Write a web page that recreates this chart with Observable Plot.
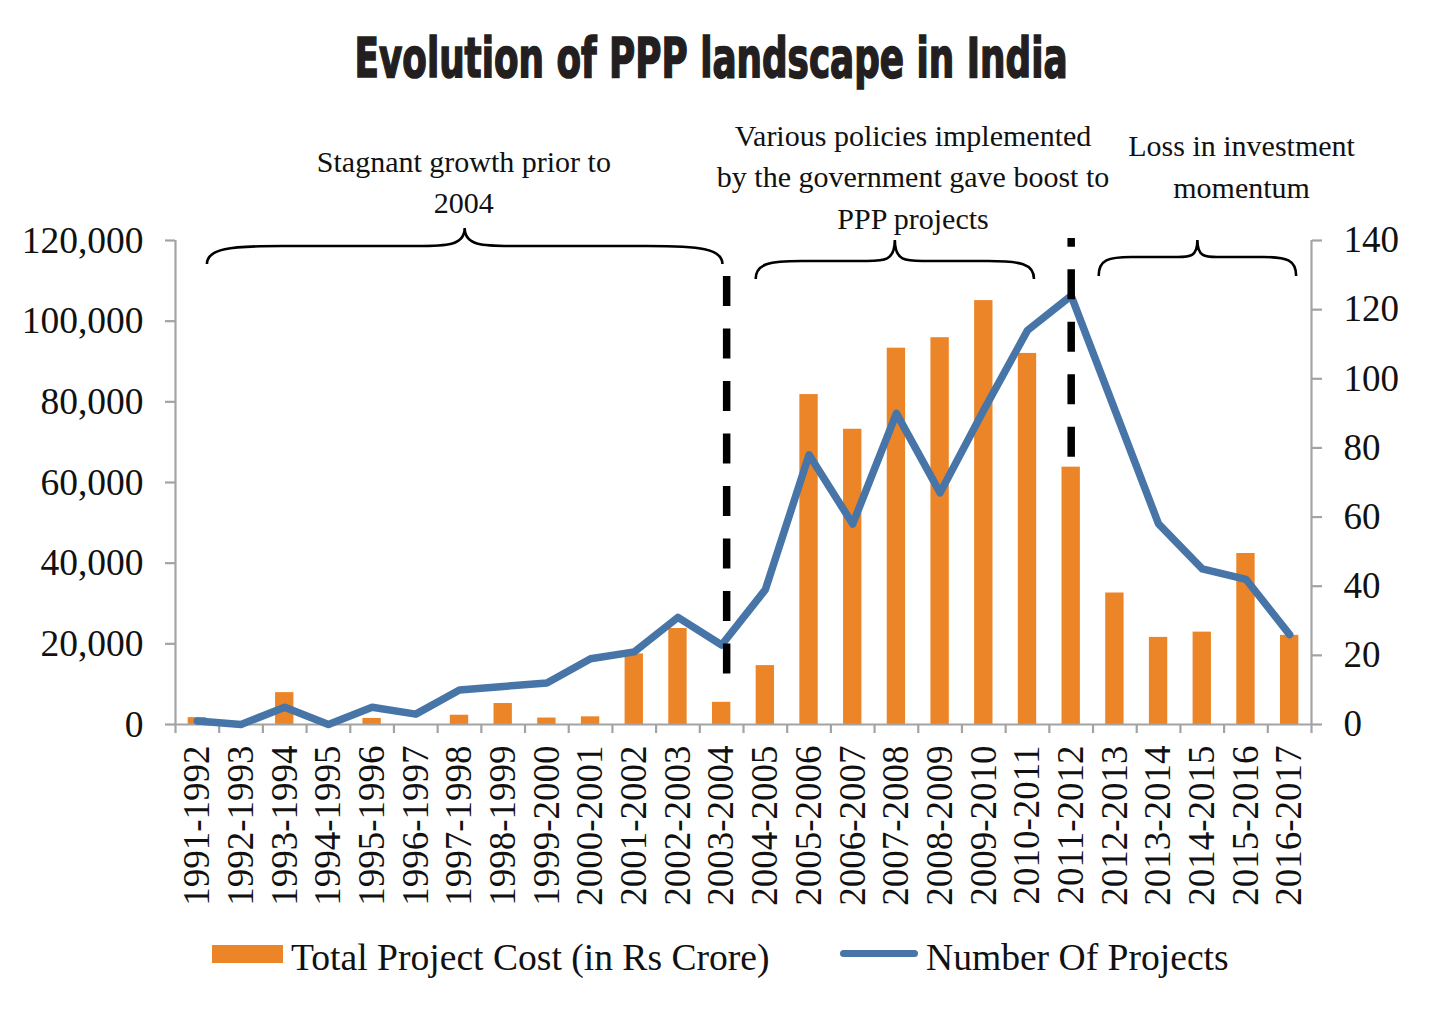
<!DOCTYPE html>
<html>
<head>
<meta charset="utf-8">
<script src="https://cdn.jsdelivr.net/npm/d3@7"></script>
<script src="https://cdn.jsdelivr.net/npm/@observablehq/plot@0.6"></script>
<style>
  html, body { margin: 0; padding: 0; background: #fff; }
  #page { position: relative; width: 1433px; height: 1022px; overflow: hidden; background: #fff; }
  #title { position: absolute; left: 0; top: 30px; width: 1433px; text-align: center;
           font-family: "DejaVu Sans", sans-serif; font-weight: bold; font-stretch: condensed;
           font-size: 56px; line-height: 56px; color: #231f20; white-space: nowrap; }
  #titleText { display: inline-block; transform-origin: 50% 50%; -webkit-text-stroke: 1.6px #231f20; }
  #chart { position: absolute; left: 0; top: 100px; }
  .leg { position: absolute; font-family: "Liberation Serif", "Times New Roman", serif;
         font-size: 37.6px; line-height: 37px; color: #111; white-space: nowrap; }
  .sw { position: absolute; }
</style>
</head>
<body>
<div id="page">
  <div id="title"><span id="titleText">Evolution of PPP landscape in India</span></div>
  <div id="chart"></div>
  <div id="legend"></div>
</div>
<script>
// ---------- data ----------
const years = ["1991-1992","1992-1993","1993-1994","1994-1995","1995-1996","1996-1997","1997-1998",
  "1998-1999","1999-2000","2000-2001","2001-2002","2002-2003","2003-2004","2004-2005","2005-2006",
  "2006-2007","2007-2008","2008-2009","2009-2010","2010-2011","2011-2012","2012-2013","2013-2014",
  "2014-2015","2015-2016","2016-2017"];
// Total Project Cost (in Rs Crore) – left axis
const projectCost = [1700, 0, 7900, 0, 1500, 0, 2300, 5200, 1600, 1900, 17500, 23800, 5500, 14600,
  81800, 73200, 93300, 95900, 105100, 92000, 63800, 32600, 21600, 22900, 42400, 22100];
// Number Of Projects – right axis
const numProjects = [1, 0, 5, 0, 5, 3, 10, 11, 12, 19, 21, 31, 23, 39, 78, 58, 90, 67, 91, 114, 124,
  91, 58, 45, 42, 26];
const leftTicks = [0, 20000, 40000, 60000, 80000, 100000, 120000];
const rightTicks = [0, 20, 40, 60, 80, 100, 120, 140];
const seriesNames = ["Total Project Cost (in Rs Crore)", "Number Of Projects"];
const titleText = "Evolution of PPP landscape in India";

// annotations (positions in category-index / left-axis units)
const noteTexts = ["Stagnant growth prior to\n2004",
  "Various policies implemented\nby the government gave boost to\nPPP projects",
  "Loss in investment\nmomentum"];
const noteX = [6.1, 16.38, 23.9];
const noteY = [126700, 122970, 130660];
const braceFrom = [0.23, 12.79, 20.64];
const braceTo = [12.03, 19.16, 25.16];
const braceEnd = [114050, 110330, 111070];
const braceBody = [118510, 114790, 115780];
const braceTip = [122970, 120000, 120000];
const dividerYears = ["2003-2004", "2011-2012"];
const dividerTop = [111100, 120500];
const dividerBottom = [12400, 66200];

// ---------- styles ----------
const ORANGE = "#ec8428";
const BLUE = "#4775a7";
const GRAY = "#a3a3a3";
const INK = "#111";
const SERIF = '"Liberation Serif", "Times New Roman", serif';
const ratio = 120000 / 140;

const table = years.map((y, i) => ({i, year: y, cost: projectCost[i], n: numProjects[i]}));
const notes = noteTexts.map((t, k) => ({text: t, x: noteX[k], y: noteY[k]}));
const braces = braceFrom.map((f, k) => ({from: f, to: braceTo[k], end: braceEnd[k], body: braceBody[k], tip: braceTip[k]}));
const dividers = dividerYears.map((y, k) => ({at: years.indexOf(y), top: dividerTop[k], bottom: dividerBottom[k]}));

function braceRender(index, scales) {
  const sx = scales.x, sy = scales.y;
  const g = d3.create("svg:g");
  for (const b of braces) {
    const x0 = sx(b.from), x1 = sx(b.to), xc = (x0 + x1) / 2;
    const ye = sy(b.end), yb = sy(b.body), yt = sy(b.tip);
    const half = xc - x0;
    const a = Math.min(75, half * 0.33), c = Math.min(48, half * 0.2);
    const p = d3.path();
    p.moveTo(x0, ye);
    p.bezierCurveTo(x0, yb + (ye - yb) * 0.15, x0 + a * 0.3, yb, x0 + a, yb);
    p.lineTo(xc - c, yb);
    p.bezierCurveTo(xc - c * 0.4, yb, xc, yb, xc, yt);
    p.bezierCurveTo(xc, yb, xc + c * 0.4, yb, xc + c, yb);
    p.lineTo(x1 - a, yb);
    p.bezierCurveTo(x1 - a * 0.3, yb, x1, yb + (ye - yb) * 0.15, x1, ye);
    g.append("path").attr("d", p.toString()).attr("fill", "none")
      .attr("stroke", "#000").attr("stroke-width", 2.6);
  }
  return g.node();
}

const chart = Plot.plot({
  width: 1433,
  height: 830,
  marginTop: 140,
  marginBottom: 206,
  marginLeft: 175,
  marginRight: 122,
  x: {type: "linear", domain: [-0.5, 25.5], axis: null},
  y: {domain: [0, 120000], axis: null},
  style: {fontFamily: SERIF, fontSize: "37px", color: INK, background: "transparent", overflow: "visible"},
  marks: [
    Plot.rectY(table, {x1: d => d.i - 0.21, x2: d => d.i + 0.21, y: "cost", fill: ORANGE}),
    Plot.ruleY([0], {stroke: GRAY, strokeWidth: 2.2}),
    Plot.ruleX([-0.5, 25.5], {stroke: GRAY, strokeWidth: 2.2}),
    Plot.axisX(d3.range(27).map(i => i - 0.5), {tickSize: 9, tickFormat: () => "", stroke: GRAY, strokeWidth: 2.2}),
    Plot.axisX(d3.range(26), {tickSize: 0, tickPadding: 21, tickRotate: -90, tickFormat: i => years[i],
      fontSize: 37, fill: INK}),
    Plot.axisY(leftTicks, {anchor: "left", tickSize: 10, tickPadding: 22, tickFormat: d3.format(","),
      fontSize: 37.5, stroke: GRAY, strokeWidth: 2.2, fill: INK}),
    Plot.axisY(rightTicks.map(v => v * ratio), {anchor: "right", tickSize: 10, tickPadding: 22,
      tickFormat: v => String(Math.round(v / ratio)), fontSize: 37, stroke: GRAY, strokeWidth: 2.2, fill: INK}),
    Plot.lineY(table, {x: "i", y: d => d.n * ratio, stroke: BLUE, strokeWidth: 7.5,
      strokeLinejoin: "round", strokeLinecap: "round"}),
    Plot.ruleX([dividers[0]], {x: "at", y1: "top", y2: "bottom", dx: 5, stroke: "#000", strokeWidth: 7.5,
      strokeDasharray: "30,22.5"}),
    Plot.ruleX([dividers[1]], {x: "at", y1: "top", y2: "bottom", stroke: "#000", strokeWidth: 7.5,
      strokeDasharray: "30,22.5", strokeDashoffset: 21.3}),
    braceRender,
    Plot.text(notes, {x: "x", y: "y", text: "text", lineAnchor: "bottom", lineHeight: 1.37,
      fontSize: 30, textAnchor: "middle", fill: INK})
  ]
});
document.getElementById("chart").appendChild(chart);

// title fit
const tt = document.getElementById("titleText");
tt.textContent = titleText;
const tw = tt.getBoundingClientRect().width;
tt.style.transform = `translateX(-5px) scaleX(${713 / tw})`;

// legend
const legend = document.getElementById("legend");
const sw1 = document.createElement("div");
sw1.className = "sw";
Object.assign(sw1.style, {left: "212px", top: "945px", width: "71px", height: "18px", background: ORANGE});
legend.appendChild(sw1);
const t1 = document.createElement("div");
t1.className = "leg"; t1.style.left = "291px"; t1.style.top = "939px"; t1.textContent = seriesNames[0];
legend.appendChild(t1);
const sw2 = document.createElement("div");
sw2.className = "sw";
Object.assign(sw2.style, {left: "840px", top: "950px", width: "78px", height: "7px", background: BLUE, borderRadius: "4px"});
legend.appendChild(sw2);
const t2 = document.createElement("div");
t2.className = "leg"; t2.style.left = "926px"; t2.style.top = "939px"; t2.textContent = seriesNames[1];
legend.appendChild(t2);
</script>
</body>
</html>
